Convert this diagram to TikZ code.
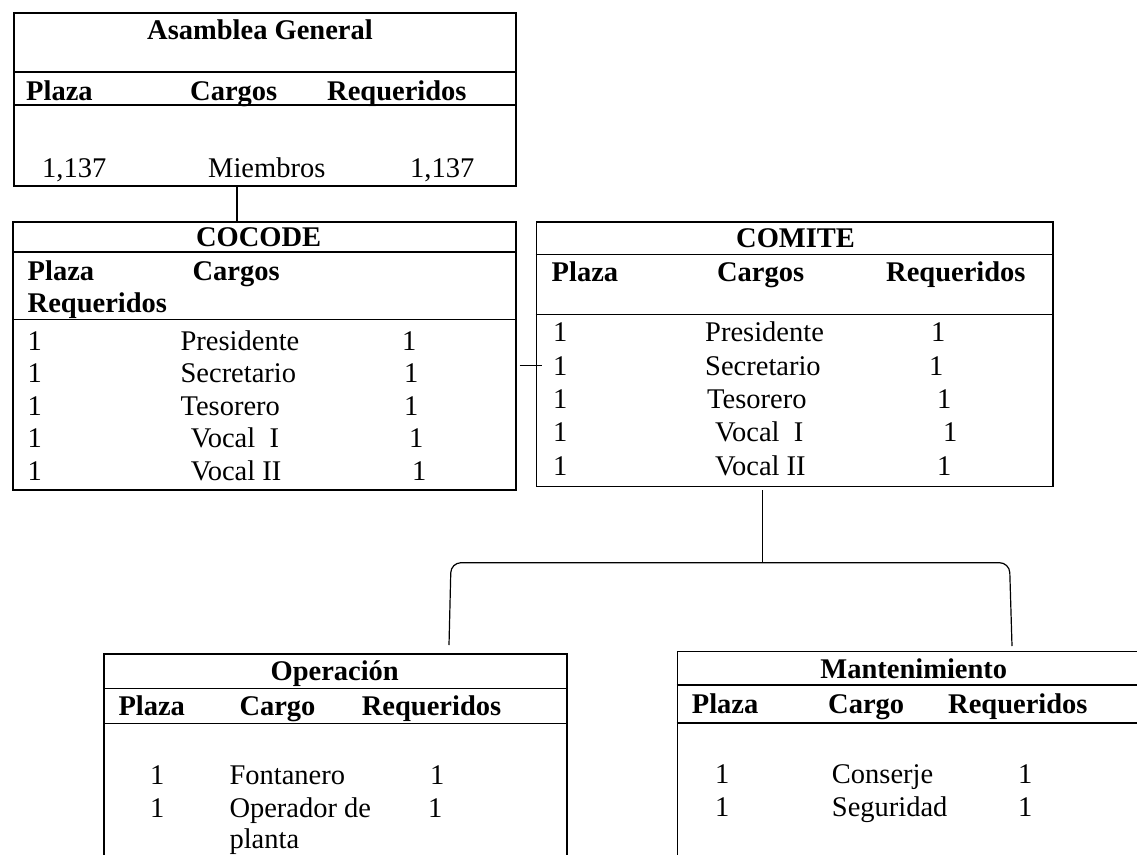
\documentclass[tikz,border=0pt]{standalone}
\usepackage{fontspec}
\setmainfont{Liberation Serif}
\begin{document}
\begin{tikzpicture}[x=1pt,y=-1pt,
  box/.style={draw, line width=1.6pt, inner sep=0, anchor=north west},
  sep/.style={line width=1.1pt},
  txt/.style={inner sep=0, anchor=base west, font=\fontsize{28.5}{33}\selectfont},
  hdr/.style={inner sep=0, anchor=base west, font=\fontsize{28.5}{33}\selectfont\bfseries},
  ttl/.style={inner sep=0, anchor=base, font=\fontsize{28.5}{33}\selectfont\bfseries},
  link/.style={line width=1.2pt}]
\useasboundingbox (0,0) rectangle (1137,854);
\clip (0,0) rectangle (1137,854);

% ---------- Asamblea General ----------
\node[box, minimum width=502pt, minimum height=173pt] (asm) at (13,12) {};
\draw[sep] (13,72) -- (515,72);
\draw[sep] (13,105) -- (515,105);
\node[ttl] (asmT) at (260,39) {Asamblea General};
\node[hdr] (asmH1) at (26,100) {Plaza};
\node[hdr] (asmH2) at (190,100) {Cargos};
\node[hdr] (asmH3) at (327,100) {Requeridos};
\node[txt] (asmR1) at (42,177) {1,137};
\node[txt] (asmR2) at (208,177) {Miembros};
\node[txt] (asmR3) at (410,177) {1,137};

% ---------- COCODE ----------
\node[box, minimum width=502.7pt, minimum height=268pt] (cocode) at (12.3,221) {};
\draw[sep] (12.3,252) -- (515,252);
\draw[sep] (12.3,319.5) -- (515,319.5);
\node[ttl] (cocT) at (258.6,246) {COCODE};
\node[hdr] (cocH1) at (27.5,280) {Plaza};
\node[hdr] (cocH2) at (192.4,280) {Cargos};
\node[hdr] (cocH3) at (27.5,312) {Requeridos};
\node[txt] (cocA1) at (27.5,350) {1};
\node[txt] (cocB1) at (180.4,350) {Presidente};
\node[txt] (cocC1) at (402,350) {1};
\node[txt] (cocA2) at (27.5,382.5) {1};
\node[txt] (cocB2) at (180.4,382.5) {Secretario};
\node[txt] (cocC2) at (404,382.5) {1};
\node[txt] (cocA3) at (27.5,415) {1};
\node[txt] (cocB3) at (180.4,415) {Tesorero};
\node[txt] (cocC3) at (404,415) {1};
\node[txt] (cocA4) at (27.5,447.5) {1};
\node[txt] (cocB4) at (190.7,447.5) {Vocal\ \ I};
\node[txt] (cocC4) at (409,447.5) {1};
\node[txt] (cocA5) at (27.5,480) {1};
\node[txt] (cocB5) at (190.7,480) {Vocal II};
\node[txt] (cocC5) at (412,480) {1};

% ---------- COMITE ----------
\node[box, minimum width=516.6pt, minimum height=264.7pt] (comite) at (535.7,221) {};
\draw[sep] (535.7,254.5) -- (1052.3,254.5);
\draw[sep] (535.7,314.3) -- (1052.3,314.3);
\node[ttl] (comT) at (795.6,247) {COMITE};
\node[hdr] (comH1) at (551.5,281.7) {Plaza};
\node[hdr] (comH2) at (716.9,281.7) {Cargos};
\node[hdr] (comH3) at (886,281.7) {Requeridos};
\node[txt] (comA1) at (553,341.7) {1};
\node[txt] (comB1) at (705,341.7) {Presidente};
\node[txt] (comC1) at (931,341.7) {1};
\node[txt] (comA2) at (553,375) {1};
\node[txt] (comB2) at (705,375) {Secretario};
\node[txt] (comC2) at (929,375) {1};
\node[txt] (comA3) at (553,408.3) {1};
\node[txt] (comB3) at (707,408.3) {Tesorero};
\node[txt] (comC3) at (937,408.3) {1};
\node[txt] (comA4) at (553,441.7) {1};
\node[txt] (comB4) at (715,441.7) {Vocal\ \ I};
\node[txt] (comC4) at (943,441.7) {1};
\node[txt] (comA5) at (553,475) {1};
\node[txt] (comB5) at (715,475) {Vocal II};
\node[txt] (comC5) at (937,475) {1};

% ---------- Operacion ----------
\node[box, minimum width=462.7pt, minimum height=240pt] (oper) at (103.3,653.3) {};
\draw[sep] (103.3,688.3) -- (566,688.3);
\draw[sep] (103.3,723.5) -- (566,723.5);
\node[ttl] (opT) at (334.7,680) {Operación};
\node[hdr] (opH1) at (118.3,715) {Plaza};
\node[hdr] (opH2) at (239.3,715) {Cargo};
\node[hdr] (opH3) at (361.7,715) {Requeridos};
\node[txt] (opA1) at (150,784) {1};
\node[txt] (opB1) at (229.3,784) {Fontanero};
\node[txt] (opC1) at (430,784) {1};
\node[txt] (opA2) at (150,817.3) {1};
\node[txt] (opB2) at (229.3,817.3) {Operador de};
\node[txt] (opC2) at (428,817.3) {1};
\node[txt] (opB3) at (229.3,848) {planta};

% ---------- Mantenimiento ----------
\node[box, minimum width=500pt, minimum height=240pt] (mant) at (676.7,650.5) {};
\draw[sep] (676.7,685) -- (1160,685);
\draw[sep] (676.7,723) -- (1160,723);
\node[ttl] (mnT) at (913.8,678) {Mantenimiento};
\node[hdr] (mnH1) at (691.7,713.3) {Plaza};
\node[hdr] (mnH2) at (828,713.3) {Cargo};
\node[hdr] (mnH3) at (948,713.3) {Requeridos};
\node[txt] (mnA1) at (715,783.3) {1};
\node[txt] (mnB1) at (831.7,783.3) {Conserje};
\node[txt] (mnC1) at (1018,783.3) {1};
\node[txt] (mnA2) at (715,816.7) {1};
\node[txt] (mnB2) at (831.7,816.7) {Seguridad};
\node[txt] (mnC2) at (1018,816.7) {1};

% ---------- connectors ----------
\coordinate (a1) at (237,0);
\draw[link] (asm.south -| a1) -- (cocode.north -| a1);
\coordinate (a2) at (0,365.7);
\draw[link] ([xshift=3pt]cocode.east |- a2) -- ([xshift=6pt]comite.west |- a2);
\coordinate (br) at (762.5,562.7);
\draw[link] ([yshift=-3pt]comite.south -| br) -- (br);
\coordinate (bl) at (449,645);
\coordinate (bR) at (1012,646);
\draw[link, rounded corners=10pt] (bl) -- (451,562.7) -- (1009.5,562.7) -- (bR);
\end{tikzpicture}
\end{document}
